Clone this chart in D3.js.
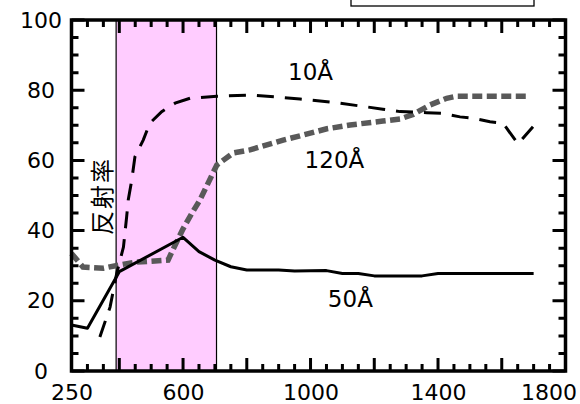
<!DOCTYPE html>
<html><head><meta charset="utf-8">
<script src="https://cdn.jsdelivr.net/npm/d3@7"></script>
<style>body{margin:0;background:#fff}svg{display:block}</style>
</head><body>
<svg id="c" width="580" height="404"></svg>
<script>
// ---- data ----
const wl50 = [250, 300, 400, 600, 650, 700, 750, 800, 900, 950, 1050, 1100, 1150, 1200, 1350, 1400, 1700];
const r50  = [13.1, 12.2, 28.3, 38.1, 34.0, 31.6, 29.7, 28.8, 28.8, 28.5, 28.6, 27.8, 27.8, 27.1, 27.1, 27.8, 27.8];

const wl10 = [339, 371, 392, 413, 423, 428, 439, 449, 475, 496, 533, 575, 622, 706, 810, 904, 967, 1092, 1227, 1281, 1365, 1416, 1469, 1511, 1563, 1604, 1651, 1698];
const r10  = [9.7, 18.2, 27.9, 35.3, 43.9, 48.7, 54.4, 61.0, 65.8, 70.6, 73.9, 76.3, 77.7, 78.3, 78.6, 78.0, 77.5, 76.3, 74.6, 73.9, 73.6, 73.4, 72.4, 72.0, 71.0, 70.6, 64.7, 69.6];

const wl120 = [250, 286, 350, 400, 450, 553, 568, 600, 628, 653, 706, 757, 810, 914, 967, 1051, 1124, 1227, 1281, 1322, 1375, 1427, 1459, 1678];
const r120  = [33.5, 29.6, 29.3, 30.2, 31.0, 31.6, 34.5, 40.5, 45.0, 48.7, 58.7, 62.1, 63.0, 65.8, 67.0, 69.0, 70.1, 71.2, 71.8, 73.1, 75.8, 77.7, 78.3, 78.3];

const band = [390, 705];
const xLabelTicks = [250, 600, 1000, 1400, 1800];
const xMajorTicks = [400, 600, 800, 1000, 1200, 1400, 1600];
const xMinorTicks = [300, 350, 450, 500, 550, 650, 700, 750, 850, 900, 950, 1050, 1100, 1150, 1250, 1300, 1350, 1450, 1500, 1550, 1650, 1700, 1750];
const yLabelTicks = [0, 20, 40, 60, 80, 100];
const yMinorTicks = [5, 10, 15, 25, 30, 35, 45, 50, 55, 65, 70, 75, 85, 90, 95];
const seriesLabels = [
  {text: "10Å", x: 1000, y: 82.9},
  {text: "120Å", x: 1075, y: 57.8},
  {text: "50Å", x: 1125, y: 18.2}
];
const yTitle = "反射率";

// ---- layout ----
const L = 71.5, R = 565.5, T = 20, B = 371;
const svg = d3.select("#c");
const x = d3.scaleLinear().domain([250, 1800]).range([L, R]);
const y = d3.scaleLinear().domain([0, 100]).range([B, T]);
const FONT = "'DejaVu Sans', sans-serif";

// legend box (clipped at top)
svg.append("rect").attr("x", 351).attr("y", -10).attr("width", 183).attr("height", 16)
  .attr("fill", "none").attr("stroke", "#000").attr("stroke-width", 1.3);

// pink band
svg.append("rect").attr("x", x(band[0])).attr("y", T).attr("width", x(band[1]) - x(band[0])).attr("height", B - T)
  .attr("fill", "#ffccff");
band.forEach(b => svg.append("line").attr("x1", x(b)).attr("x2", x(b)).attr("y1", T).attr("y2", B)
  .attr("stroke", "#000").attr("stroke-width", 1.2));

// lines
const line = d3.line().x(d => x(d[0])).y(d => y(d[1]));
svg.append("path").datum(wl120.map((w, i) => [w, r120[i]])).attr("d", line)
  .attr("fill", "none").attr("stroke", "#595959").attr("stroke-width", 5.5).attr("stroke-dasharray", "10,4.5");
svg.append("path").datum(wl10.map((w, i) => [w, r10[i]])).attr("d", line)
  .attr("fill", "none").attr("stroke", "#000").attr("stroke-width", 3).attr("stroke-dasharray", "17,11");
svg.append("path").datum(wl50.map((w, i) => [w, r50[i]])).attr("d", line)
  .attr("fill", "none").attr("stroke", "#000").attr("stroke-width", 3).attr("stroke-linejoin", "round");

// frame
svg.append("rect").attr("x", L).attr("y", T).attr("width", R - L).attr("height", B - T)
  .attr("fill", "none").attr("stroke", "#000").attr("stroke-width", 3.5);

// inward ticks, built from the scales as one path
const majLen = 13, minLen = 7;
let td = "";
xMajorTicks.forEach(v => { td += `M${x(v)},${B}V${B - majLen}M${x(v)},${T}V${T + majLen}`; });
xMinorTicks.forEach(v => { td += `M${x(v)},${B}V${B - minLen}M${x(v)},${T}V${T + minLen}`; });
yLabelTicks.forEach(v => { td += `M${L},${y(v)}H${L + majLen}M${R},${y(v)}H${R - majLen}`; });
yMinorTicks.forEach(v => { td += `M${L},${y(v)}H${L + minLen}M${R},${y(v)}H${R - minLen}`; });
svg.append("path").attr("d", td).attr("fill", "none").attr("stroke", "#000").attr("stroke-width", 3);

// tick labels
const gx = svg.append("g").attr("transform", `translate(0,${B})`)
  .call(d3.axisBottom(x).tickValues(xLabelTicks).tickSize(0).tickPadding(13).tickFormat(d3.format("d")));
gx.select(".domain").remove();
gx.selectAll("text").attr("font-family", FONT).attr("font-size", 22).attr("fill", "#000");
gx.selectAll("text").each(function() {
  const bb = this.getBBox();
  const tr = d3.select(this.parentNode).attr("transform");
  const tx = +/translate\(([-\d.]+)/.exec(tr)[1];
  const right = tx + bb.x + bb.width;
  if (right > 577) d3.select(this).attr("x", 577 - right);
});

const gy = svg.append("g").attr("transform", `translate(${L},0)`)
  .call(d3.axisLeft(y).tickValues(yLabelTicks).tickSize(0).tickPadding(0).tickFormat(d3.format("d")));
gy.select(".domain").remove();
gy.selectAll("text").attr("font-family", FONT).attr("font-size", 22).attr("fill", "#000")
  .attr("text-anchor", "middle").attr("x", 41 - L);

// series labels
svg.selectAll(".slab").data(seriesLabels).enter().append("text")
  .attr("x", d => x(d.x)).attr("y", d => y(d.y)).attr("text-anchor", "middle")
  .attr("font-family", FONT).attr("font-size", 23).attr("fill", "#000").text(d => d.text);

// y title
svg.append("text").attr("transform", "translate(100,196) rotate(-90)")
  .attr("text-anchor", "middle").attr("dominant-baseline", "central")
  .attr("font-family", "'Noto Sans CJK JP', sans-serif").attr("font-size", 24)
  .attr("letter-spacing", 2).attr("fill", "#000").text(yTitle);
</script>
</body></html>
